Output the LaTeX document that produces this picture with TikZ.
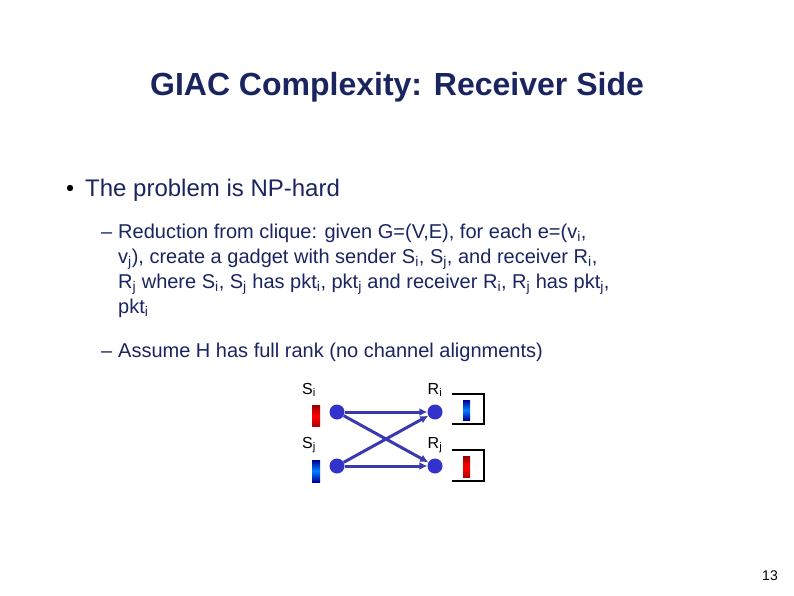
\documentclass[tikz,border=0pt]{standalone}
\usetikzlibrary{arrows.meta}
\usepackage{fontspec}
\setmainfont{Liberation Sans}
\definecolor{navy}{HTML}{1A2560}
\definecolor{dotblue}{HTML}{3333CC}
\definecolor{arrowblue}{HTML}{3A3AB0}
\newcommand{\sbx}[1]{\textsubscript{#1}}
\begin{document}
\begin{tikzpicture}[x=1pt,y=-1pt,
  body/.style={anchor=base west,inner sep=0,text=navy,font=\fontsize{20}{24}\selectfont},
  dot/.style={circle,fill=dotblue,minimum size=15pt,inner sep=0},
  lbl/.style={inner sep=0,font=\fontsize{16}{18}\selectfont},
  link/.style={arrowblue,line width=3pt,-{Latex[length=8pt,width=8pt]}},
  ]
\useasboundingbox (0,0) rectangle (794,595);
\node[text=navy,font=\bfseries\fontsize{32}{36}\selectfont] (title) at (397,87) {GIAC Complexity: Receiver Side};
\fill (70,188) circle (3.2) coordinate (b1);
\node[body,font=\fontsize{24}{28}\selectfont] (l0) at (85,196) {The problem is NP-hard};
\node[body] (d1) at (101,238) {–};
\node[body] (l1) at (118,238) {Reduction from clique: given G=(V,E), for each e=(v\sbx{i},};
\node[body] (l2) at (118,263) {v\sbx{j}), create a gadget with sender S\sbx{i}, S\sbx{j}, and receiver R\sbx{i},};
\node[body] (l3) at (118,288) {R\sbx{j} where S\sbx{i}, S\sbx{j} has pkt\sbx{i}, pkt\sbx{j} and receiver R\sbx{i}, R\sbx{j} has pkt\sbx{j},};
\node[body] (l4) at (118,313) {pkt\sbx{i}};
\node[body] (d2) at (101,357) {–};
\node[body] (l5) at (118,357) {Assume H has full rank (no channel alignments)};
% gadget
\node[lbl] (si) at (309,390) {S\sbx{i}};
\node[lbl] (sj) at (309,445) {S\sbx{j}};
\node[lbl] (ri) at (435,390) {R\sbx{i}};
\node[lbl] (rj) at (435,445) {R\sbx{j}};
\node[dot] (a) at (337,412) {};
\node[dot] (b) at (337,466) {};
\node[dot] (c) at (435,412) {};
\node[dot] (d) at (435,466) {};
\draw[link] (a) -- (c);
\draw[link] (a) -- (d);
\draw[link] (b) -- (c);
\draw[link] (b) -- (d);
\shade[top color=red!60!black,bottom color=red!70!black,middle color=red] (312,405) rectangle (320,426);
\shade[top color=blue!60!black,bottom color=blue!60!black,middle color=blue!50!cyan] (312,460) rectangle (320,482);
\shade[top color=blue!60!black,bottom color=blue!60!black,middle color=blue!50!cyan] (463,400) rectangle (470,420);
\shade[top color=red!60!black,bottom color=red!70!black,middle color=red] (463,456) rectangle (470,477);
\draw[line width=2pt] (452,394) -- (484,394) -- (484,424) -- (452,424);
\draw[line width=2pt] (452,450) -- (484,450) -- (484,481) -- (452,481);
\node[anchor=base,inner sep=0,font=\fontsize{14}{16}\selectfont] (pg) at (770,580) {13};
\end{tikzpicture}
\end{document}
